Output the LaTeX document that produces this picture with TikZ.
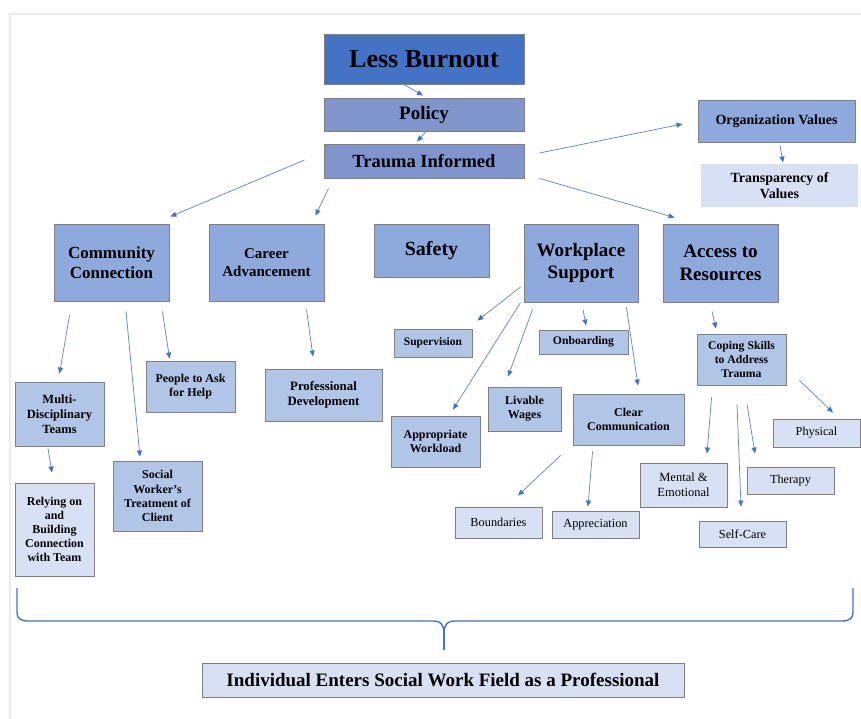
\documentclass[tikz,border=0pt]{standalone}
\usepackage{fontspec}
\setmainfont{Liberation Serif}
\usetikzlibrary{arrows.meta}

\definecolor{cBurn}{HTML}{4472C4}
\definecolor{cPolicy}{HTML}{7F95CB}
\definecolor{cMain}{HTML}{8EA9DB}
\definecolor{cSub}{HTML}{B1C5E7}
\definecolor{cLight}{HTML}{D8E1F3}
\definecolor{cEdge}{HTML}{7F7F7F}
\definecolor{cLine}{HTML}{6488CB}
\definecolor{cFrame}{HTML}{EBEBEB}

\newcommand\fsz[1]{\fontsize{#1}{1.18\dimexpr#1pt\relax}\selectfont}

\tikzset{
  box/.style={draw=cEdge, line width=0.9pt, align=center, inner sep=1pt, text=black},
  burnbox/.style={box, fill=cBurn},
  policybox/.style={box, fill=cPolicy},
  mainbox/.style={box, fill=cMain},
  subbox/.style={box, fill=cSub},
  lightbox/.style={box, fill=cLight},
  arr/.style={draw=cLine, line width=0.75pt,
    -{Triangle[length=6pt,width=5pt,color=cBurn]}},
  brace/.style={draw=cBurn, line width=1.4pt, line join=round}
}

\begin{document}
\begin{tikzpicture}[x=1pt, y=-1pt]
\useasboundingbox (0,0) rectangle (861,719);
\fill[white] (0,0) rectangle (861,719);
% thin frame along the top and left edges
\draw[cFrame, line width=2pt] (10,719) -- (10,14) -- (861,14);

% top chain
\node[burnbox, minimum width=200pt, minimum height=50pt, font=\fsz{26}\bfseries] (burn) at (424,59) {Less Burnout};
\node[policybox, minimum width=200pt, minimum height=33pt, font=\fsz{19}\bfseries] (policy) at (424,114.5) {Policy};
\node[policybox, minimum width=200pt, minimum height=34pt, font=\fsz{18.5}\bfseries] (trauma) at (424,161) {Trauma Informed};

% organization values
\node[mainbox, minimum width=157pt, minimum height=42pt, font=\fsz{14}\bfseries] (orgv) at (776.5,121) {Organization Values};
\node[lightbox, draw=none, minimum width=157pt, minimum height=43pt, font=\fsz{14}\bfseries] (transp) at (779.5,185.5) {Transparency of\\Values};

% main categories
\node[mainbox, minimum width=115pt, minimum height=77pt, font=\fsz{17}\bfseries] (comm) at (111.5,262.5) {Community\\Connection};
\node[mainbox, minimum width=115pt, minimum height=77pt, font=\fsz{15}\bfseries] (career) at (266.5,262.5) {Career\\Advancement};
\node[mainbox, minimum width=115pt, minimum height=53pt, font=\fsz{20}\bfseries] (safety) at (431.5,250.5) {Safety};
\node[mainbox, minimum width=114pt, minimum height=78pt, font=\fsz{19}\bfseries] (work) at (581,263) {Workplace\\Support};
\node[mainbox, minimum width=115pt, minimum height=78pt, font=\fsz{19}\bfseries] (access) at (720.5,263) {Access to\\Resources};

% community connection branch
\node[subbox, minimum width=89pt, minimum height=64pt, font=\fsz{12.5}\bfseries] (multi) at (59.5,414) {Multi-\\Disciplinary\\Teams};
\node[lightbox, minimum width=79pt, minimum height=93pt, font=\fsz{12}\bfseries] (relying) at (54.5,529.5) {Relying on\\and\\Building\\Connection\\with Team};
\node[subbox, minimum width=89pt, minimum height=51pt, font=\fsz{12}\bfseries] (people) at (190.5,386.5) {People to Ask\\for Help};
\node[subbox, minimum width=89pt, minimum height=70pt, font=\fsz{12}\bfseries] (social) at (157.5,496) {Social\\Worker’s\\Treatment of\\Client};

% career branch
\node[subbox, minimum width=117pt, minimum height=52pt, font=\fsz{12.8}\bfseries] (prof) at (323.5,395) {Professional\\Development};

% workplace support branch
\node[subbox, minimum width=78pt, minimum height=28pt, font=\fsz{11.5}\bfseries] (superv) at (433,343) {Supervision};
\node[subbox, minimum width=89pt, minimum height=24pt, font=\fsz{11.7}\bfseries] (onb) at (583.5,342) {Onboarding};
\node[subbox, minimum width=89pt, minimum height=51pt, font=\fsz{12}\bfseries] (approp) at (435.5,441.5) {Appropriate\\Workload};
\node[subbox, minimum width=73pt, minimum height=44pt, font=\fsz{12}\bfseries] (livable) at (524.5,409) {Livable\\Wages};
\node[subbox, minimum width=111pt, minimum height=51pt, font=\fsz{12}\bfseries] (clear) at (628.5,419.5) {Clear\\Communication};
\node[lightbox, minimum width=87pt, minimum height=31pt, font=\fsz{12.3}] (bound) at (498.5,522.5) {Boundaries};
\node[lightbox, minimum width=87pt, minimum height=27pt, font=\fsz{12.3}] (apprec) at (595.5,524.5) {Appreciation};

% access to resources branch
\node[subbox, minimum width=89pt, minimum height=51pt, font=\fsz{11.7}\bfseries] (coping) at (741.5,359.5) {Coping Skills\\to Address\\Trauma};
\node[lightbox, minimum width=87pt, minimum height=28pt, font=\fsz{12.3}] (physical) at (816.5,433) {Physical};
\node[lightbox, minimum width=87pt, minimum height=44pt, font=\fsz{12.5}] (mental) at (683.5,485) {Mental \&\\Emotional};
\node[lightbox, minimum width=87pt, minimum height=27pt, font=\fsz{12.3}] (therapy) at (790.5,480.5) {Therapy};
\node[lightbox, minimum width=87pt, minimum height=26pt, font=\fsz{12.3}] (selfcare) at (742.5,534) {Self-Care};

% foundation
\node[lightbox, minimum width=482pt, minimum height=34pt, font=\fsz{19}\bfseries] (indiv) at (443,680) {Individual Enters Social Work Field as a Professional};

% connectors
\draw[arr] ([shift={(-20,0)}]burn.south) -- ([shift={(-1,-2)}]policy.north);
\draw[arr] ([shift={(4,-2)}]policy.south) -- ([shift={(-7,-2)}]trauma.north);
\draw[arr] ([shift={(-19,-1)}]trauma.west) -- ([shift={(1,-7)}]comm.north east);
\draw[arr] ([shift={(5,10)}]trauma.south west) -- ([shift={(-9,-8)}]career.north east);
\draw[arr] ([shift={(15,-8)}]trauma.east) -- ([shift={(-15,3)}]orgv.west);
\draw[arr] ([shift={(15,0)}]trauma.south east) -- ([shift={(12,-6)}]access.north west);
\draw[arr] ([shift={(3.5,3)}]orgv.south) -- ([shift={(3.5,-1)}]transp.north);

\draw[arr] ([shift={(16,14)}]comm.south west) -- ([shift={(0,-8)}]multi.north);
\draw[arr] ([shift={(14.5,10)}]comm.south) -- ([shift={(-17.5,-4)}]social.north);
\draw[arr] ([shift={(-7,10)}]comm.south east) -- ([shift={(24,-2)}]people.north west);
\draw[arr] ([shift={(-11.5,2)}]multi.south) -- ([shift={(-2.5,-10)}]relying.north);
\draw[arr] ([shift={(-18,8)}]career.south east) -- ([shift={(-10.5,-12)}]prof.north);

\draw[arr] ([shift={(-3,24)}]work.west) -- ([shift={(5,-8)}]superv.north east);
\draw[arr] ([shift={(-3,0)}]work.south west) -- ([shift={(17.5,-6)}]approp.north);
\draw[arr] ([shift={(9,7)}]work.south west) -- ([shift={(-16.5,-10)}]livable.north);
\draw[arr] ([shift={(2,7)}]work.south) -- ([shift={(2.5,-4)}]onb.north);
\draw[arr] ([shift={(-12,5)}]work.south east) -- ([shift={(9.5,-8)}]clear.north);
\draw[arr] ([shift={(-12,10)}]clear.south west) -- ([shift={(19.5,-11)}]bound.north);
\draw[arr] ([shift={(20,6)}]clear.south west) -- ([shift={(-7.5,-4)}]apprec.north);

\draw[arr] ([shift={(-8.5,9)}]access.south) -- ([shift={(-25.5,-5)}]coping.north);
\draw[arr] ([shift={(13,-5)}]coping.south east) -- ([shift={(16.5,-6)}]physical.north);
\draw[arr] ([shift={(15,12)}]coping.south west) -- ([shift={(23.5,-9)}]mental.north);
\draw[arr] ([shift={(-4.5,19)}]coping.south) -- ([shift={(-1.5,-14)}]selfcare.north);
\draw[arr] ([shift={(5.5,19)}]coping.south) -- ([shift={(-35.5,-13)}]therapy.north);

% curly brace gathering everything above the foundation box
\draw[brace] (17,588) -- (17,612)
  .. controls (17,618) and (20,621) .. (28,621) -- (434,621)
  .. controls (440,621) and (443,624) .. (444,631)
  .. controls (445,624) and (448,621) .. (454,621) -- (842,621)
  .. controls (850,621) and (853,618) .. (853,612) -- (853,588);
\draw[brace] (444,631) -- (444,650);
\end{tikzpicture}
\end{document}
